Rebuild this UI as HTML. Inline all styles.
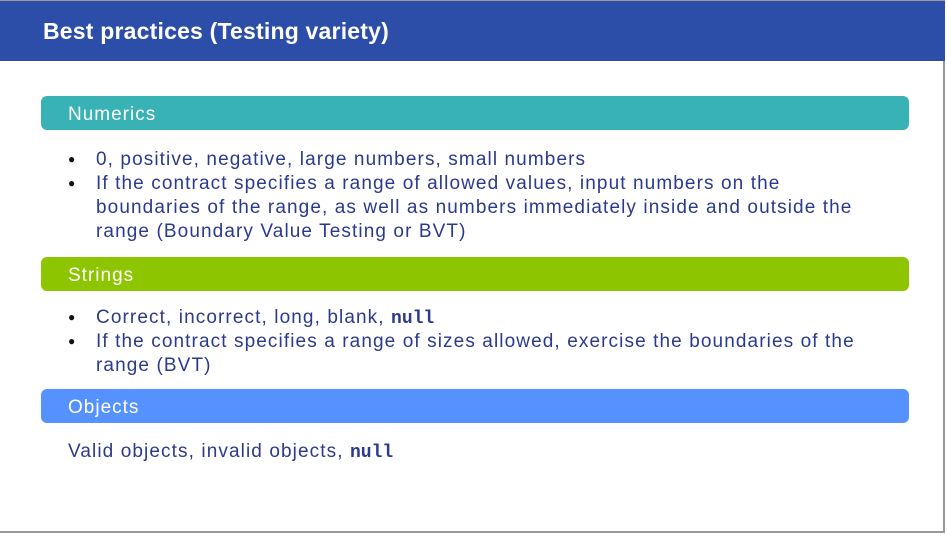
<!DOCTYPE html>
<html><head><style>
body{margin:0;width:947px;height:536px;position:relative;background:#fff;font-family:"Liberation Sans",sans-serif;overflow:hidden}
.frame{position:absolute;left:0;top:0;width:945px;height:533px;border-right:2px solid #999;border-bottom:2px solid #999;border-top:1px solid #999;box-sizing:border-box}
.hdr{position:absolute;left:0;top:1px;width:945px;height:60px;background:#2C4EA8;color:#fff;font-weight:bold;font-size:23px;line-height:60px;padding-left:43px;box-sizing:border-box;letter-spacing:0.2px}
.bar{position:absolute;left:41px;width:868px;height:34px;border-radius:6px;color:#fff;font-size:19px;line-height:37px;padding-left:27px;box-sizing:border-box;letter-spacing:1px}
.t{position:absolute;color:#2B3A8C;font-size:19px;line-height:24px;white-space:nowrap;letter-spacing:1.1px}
.b{position:absolute;color:#111;font-size:12px}
code{font-family:"Liberation Mono",monospace;font-weight:bold;font-size:18px;letter-spacing:0}
</style></head><body>
<div class="frame"></div>
<div class="hdr">Best practices (Testing variety)</div>
<div class="bar" style="top:96px;background:#38B2B5">Numerics</div>
<div class="b" style="left:68px;top:152px">●</div>
<div class="t" style="left:96px;top:148px">0, positive, negative, large numbers, small numbers</div>
<div class="b" style="left:68px;top:176px">●</div>
<div class="t" style="left:96px;top:172px">If the contract specifies a range of allowed values, input numbers on the<br>boundaries of the range, as well as numbers immediately inside and outside the<br>range (Boundary Value Testing or BVT)</div>
<div class="bar" style="top:257px;background:#8DC500">Strings</div>
<div class="b" style="left:68px;top:310px">●</div>
<div class="t" style="left:96px;top:306px">Correct, incorrect, long, blank, <code>null</code></div>
<div class="b" style="left:68px;top:334px">●</div>
<div class="t" style="left:96px;top:330px">If the contract specifies a range of sizes allowed, exercise the boundaries of the<br>range (BVT)</div>
<div class="bar" style="top:389px;background:#5592FF">Objects</div>
<div class="t" style="left:68px;top:440px">Valid objects, invalid objects, <code>null</code></div>
</body></html>
